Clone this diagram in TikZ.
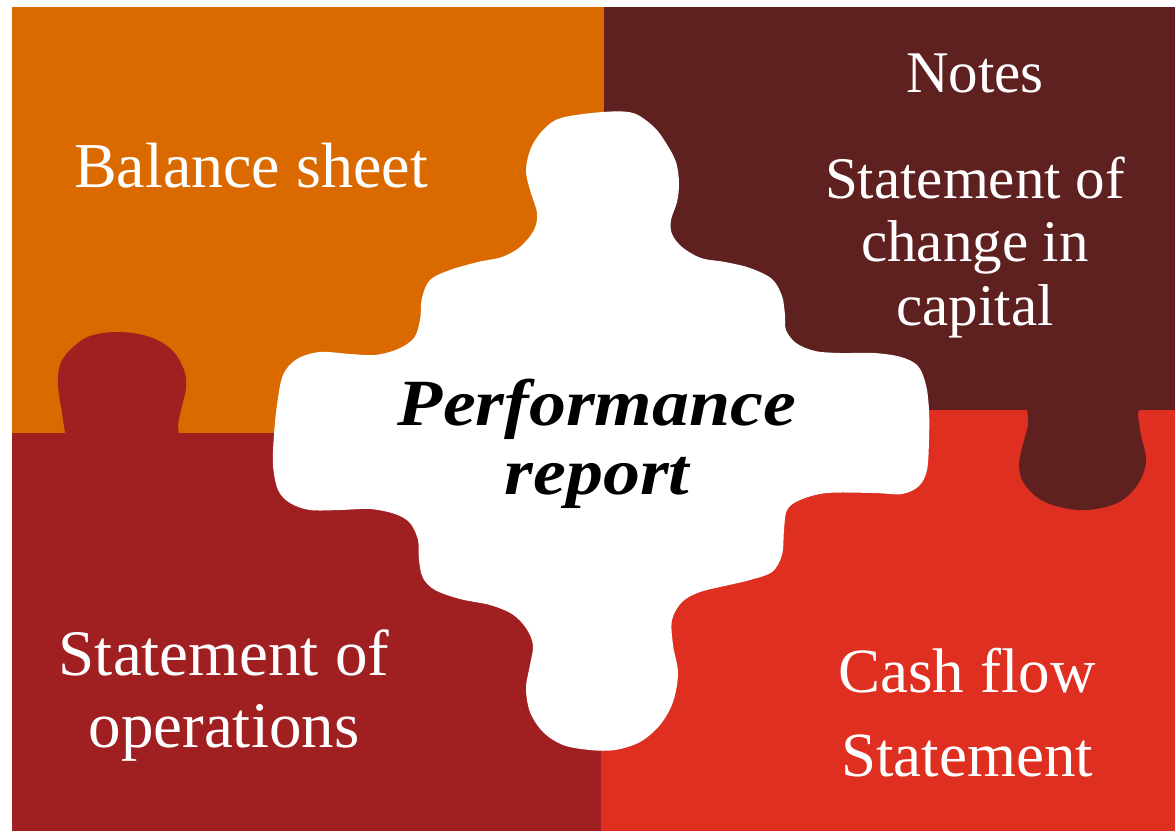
\documentclass[tikz,border=0pt]{standalone}
\usepackage{fontspec}
\setmainfont{Liberation Serif}
\newfontfamily\perffont[FakeStretch=1.12]{Liberation Serif}
\definecolor{cOrange}{RGB}{218,106,0}
\definecolor{cBrown}{RGB}{95,33,32}
\definecolor{cDarkRed}{RGB}{160,31,33}
\definecolor{cRed}{RGB}{222,47,32}
\tikzset{
  lbl/.style={text=white, inner sep=0pt, align=center, anchor=base},
  ctr/.style={text=black, inner sep=0pt, align=center, anchor=base},
}
\begin{document}
\begin{tikzpicture}[x=0.5pt,y=-0.5pt]
\useasboundingbox (0,0) rectangle (1175,831);
\fill[white] (0,0) rectangle (1175,831);
% quadrants
\fill[cOrange] (12,7) rectangle (604,433);
\fill[cBrown] (604,7) rectangle (1175,410);
\fill[cDarkRed] (12,433) rectangle (601,831);
\fill[cRed] (601,410) rectangle (1175,831);
% tabs
\fill[cDarkRed] (65,440) -- plot[smooth, tension=0.6] coordinates {(65,433) (62,413) (58,385) (60,365) (70,350) (90,336) (120,332) (150,337) (172,350) (184,370) (186,388) (181,410) (178,425) (179,433)} -- (179,440) -- cycle;
\fill[cBrown] (1027,405) -- plot[smooth, tension=0.6] coordinates {(1027,410) (1028,425) (1022,448) (1019,467) (1025,485) (1045,502) (1080,510) (1115,504) (1136,487) (1146,462) (1141,435) (1138,415) (1140,410)} -- (1140,405) -- cycle;
% central piece
\fill[white] plot[smooth cycle, tension=0.55] coordinates {
(561,118) (603,112) (633,113) (654,127) (666,143) (676,162) (679,183) (677,202) (671,220) (672,234) (682,247) (701,258) (725,262) (750,268) (772,279) (782,296) (785,315) (786,330) (796,343) (815,351) (840,353) (874,353) (901,357) (918,366) (926,385) (929,410) (929,440) (927,470) (919,486) (902,494) (874,493) (827,493) (800,500) (787,510) (784,530) (782,555) (772,572) (750,580) (729,585) (700,592) (682,602) (672,620) (673,645) (678,673) (673,702) (660,725) (640,742) (615,750) (590,750) (563,745) (543,732) (530,712) (526,688) (530,665) (533,645) (526,628) (512,614) (490,605) (460,599) (435,590) (423,578) (419,560) (418,540) (410,523) (395,514) (370,509) (340,510) (310,510) (290,503) (278,490) (273,465) (274,435) (277,405) (283,375) (297,359) (320,352) (350,354) (375,355) (398,349) (414,338) (420,320) (422,298) (430,280) (450,270) (478,262) (502,257) (520,247) (534,230) (537,213) (530,190) (526,170) (531,148) (543,130)};
% texts (base anchor = baseline of last line)
\node[lbl, font=\fontsize{32}{32}\selectfont] (bs) at (251,187) {Balance sheet};
\node[lbl, font=\fontsize{29.5}{29.5}\selectfont] (notes) at (975,92) {Notes};
\node[lbl, font=\fontsize{29.5}{31.75}\selectfont] (scc) at (975,325) {Statement of\\change in\\capital};
\node[lbl, font=\fontsize{32.5}{36}\selectfont] (sop) at (224,747) {Statement of\\operations};
\node[lbl, font=\fontsize{31.5}{42}\selectfont] (cfs) at (967,776) {Cash flow\\Statement};
\node[ctr, font=\perffont\bfseries\itshape\fontsize{33}{34.5}\selectfont] (perf) at (597,494) {Performance\\report};
\end{tikzpicture}
\end{document}
